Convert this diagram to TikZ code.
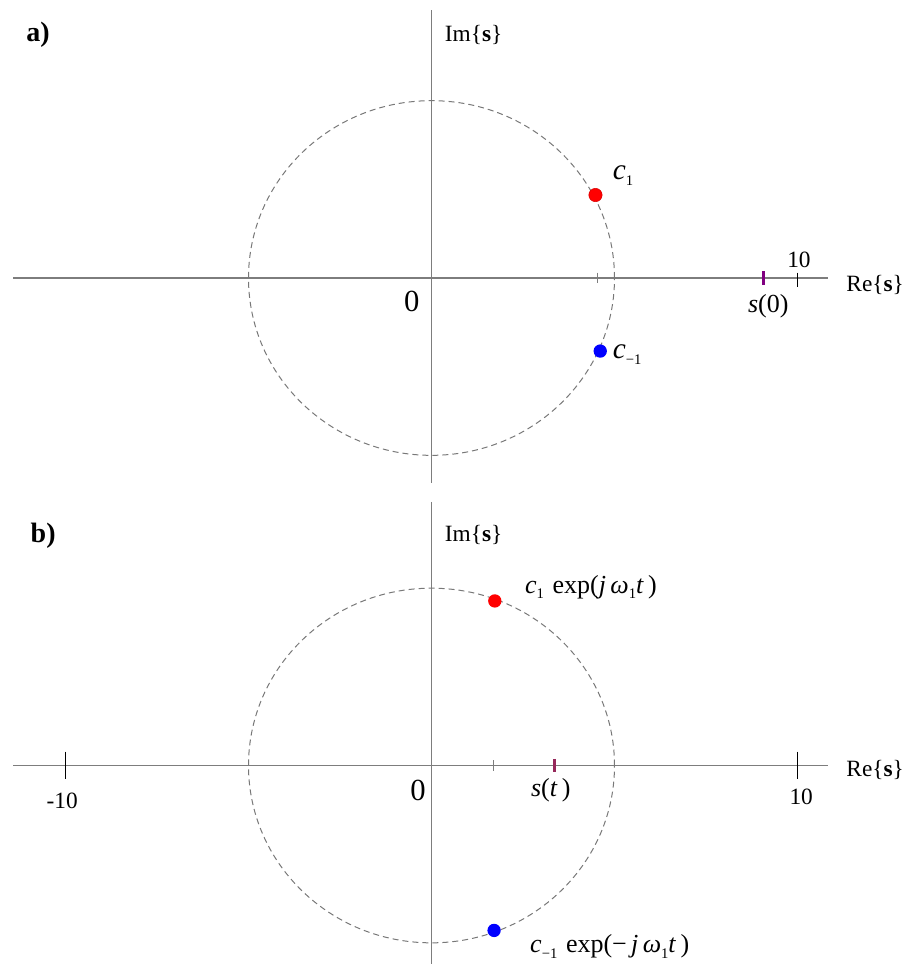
\documentclass[tikz,border=0pt]{standalone}
\usepackage{fontspec}
\setmainfont{Liberation Serif}
\usetikzlibrary{positioning}
\definecolor{axisgray}{RGB}{125,125,125}
\definecolor{orbitgray}{RGB}{120,120,120}
\definecolor{sapurple}{RGB}{128,0,128}
\definecolor{sbmaroon}{RGB}{150,40,90}
\newcommand{\lowidx}[1]{\raisebox{-0.45ex}{\fontsize{11}{11}\selectfont #1}}

\begin{document}
\begin{tikzpicture}[x=0.75pt, y=-0.75pt,
  axis/.style={draw=axisgray, line width=1.05pt},
  orbit/.style={draw=orbitgray, dash pattern=on 4.5pt off 3pt, line width=0.75pt},
  gtick/.style={draw=axisgray, line width=0.8pt},
  stick/.style={line width=2.2pt},
  btick/.style={draw=black, line width=0.9pt},
  lbl/.style={font=\fontsize{17.5}{20}\selectfont, inner sep=0pt},
  mlbl/.style={font=\fontsize{19.5}{22}\selectfont, inner sep=0pt},
  clbl/.style={font=\fontsize{22}{24}\selectfont, inner sep=0pt},
  zero/.style={font=\fontsize{23}{26}\selectfont, inner sep=0pt},
  panel/.style={font=\fontsize{21}{24}\selectfont\bfseries, inner sep=0pt},
  dot/.style={circle, inner sep=0pt, minimum size=10pt}]

  \useasboundingbox (0,0) rectangle (908,964);

  % a) start position
  \begin{scope}[shift={(431.5,278)}, x=27.45pt, y=26.6pt]
    \coordinate (oa) at (0,0);
    \draw[axis] (-11.43,0) coordinate (rea0) -- (10.83,0) coordinate (rea1);
    \draw[axis] (0,7.55) coordinate (ima0) -- (0,-5.77) coordinate (ima1);
    \draw[orbit] (oa) ellipse [x radius=5, y radius=5];

    \draw[gtick] (4.545,0.15) -- (4.545,-0.15);
    \draw[stick, sapurple] (9.07,0.19) -- (9.07,-0.19);
    \draw[btick] (10,0.15) -- (10,-0.26);

    \node[dot, fill=red, draw=red!85!black] (ca1) at (4.48,2.34) {};
    \node[dot, fill=blue] (cam1) at (4.61,-2.06) {};

    \node[panel] (pa) at (-10.75,6.85) {a)};
    \node[lbl] (imla) at (1.15,6.85) {Im\{\textbf{s}\}};
    \node[lbl, anchor=west] (rela) at (11.33,-0.2) {Re\{\textbf{s}\}};
    \node[zero] (za) at (-0.54,-0.67) {0};
    \node[lbl] (tena) at (10.04,0.51) {10};
    \node[mlbl] (sza) at (9.2,-0.81) {\textit{s}(0)};
    \node[clbl, anchor=west] (lca1) at (4.95,2.9) {\textit{c}\lowidx{1}};
    \node[clbl, anchor=west] (lcam1) at (4.95,-2.15) {\textit{c}\lowidx{−1}};
  \end{scope}

  % b) rotating phasors
  \begin{scope}[shift={(431.5,765.5)}, x=27.45pt, y=26.6pt]
    \coordinate (ob) at (0,0);
    \draw[axis] (-11.43,0) coordinate (reb0) -- (10.83,0) coordinate (reb1);
    \draw[axis] (0,7.43) coordinate (imb0) -- (0,-5.6) coordinate (imb1);
    \draw[orbit] (ob) ellipse [x radius=5, y radius=5];

    \draw[gtick] (1.69,0.15) -- (1.69,-0.15);
    \draw[stick, sbmaroon] (3.36,0.19) -- (3.36,-0.19);
    \draw[btick] (-10,0.39) -- (-10,-0.39);
    \draw[btick] (10,0.39) -- (10,-0.39);

    \node[dot, fill=red] (cb1) at (1.73,4.64) {};
    \node[dot, fill=blue] (cbm1) at (1.71,-4.65) {};

    \node[panel] (pb) at (-10.61,6.49) {b)};
    \node[lbl] (imlb) at (1.15,6.49) {Im\{\textbf{s}\}};
    \node[lbl, anchor=west] (relb) at (11.33,-0.13) {Re\{\textbf{s}\}};
    \node[zero] (zb) at (-0.37,-0.69) {0};
    \node[lbl] (mtenb) at (-10.09,-1.0) {-10};
    \node[lbl] (tenb) at (10.1,-0.89) {10};
    \node[mlbl] (stb) at (3.26,-0.69) {\textit{s}(\textit{t}\,)};
    \node[mlbl, anchor=west] (lcb1) at (2.55,5.04)
      {\textit{c}\lowidx{1}\,\,exp(\textit{j}\,\textit{ω}\lowidx{1}\textit{t}\,)};
    \node[mlbl, anchor=west] (lcbm1) at (2.69,-5.1)
      {\textit{c}\lowidx{−1}\,\,exp(−\,\textit{j}\,\textit{ω}\lowidx{1}\textit{t}\,)};
  \end{scope}
\end{tikzpicture}
\end{document}
